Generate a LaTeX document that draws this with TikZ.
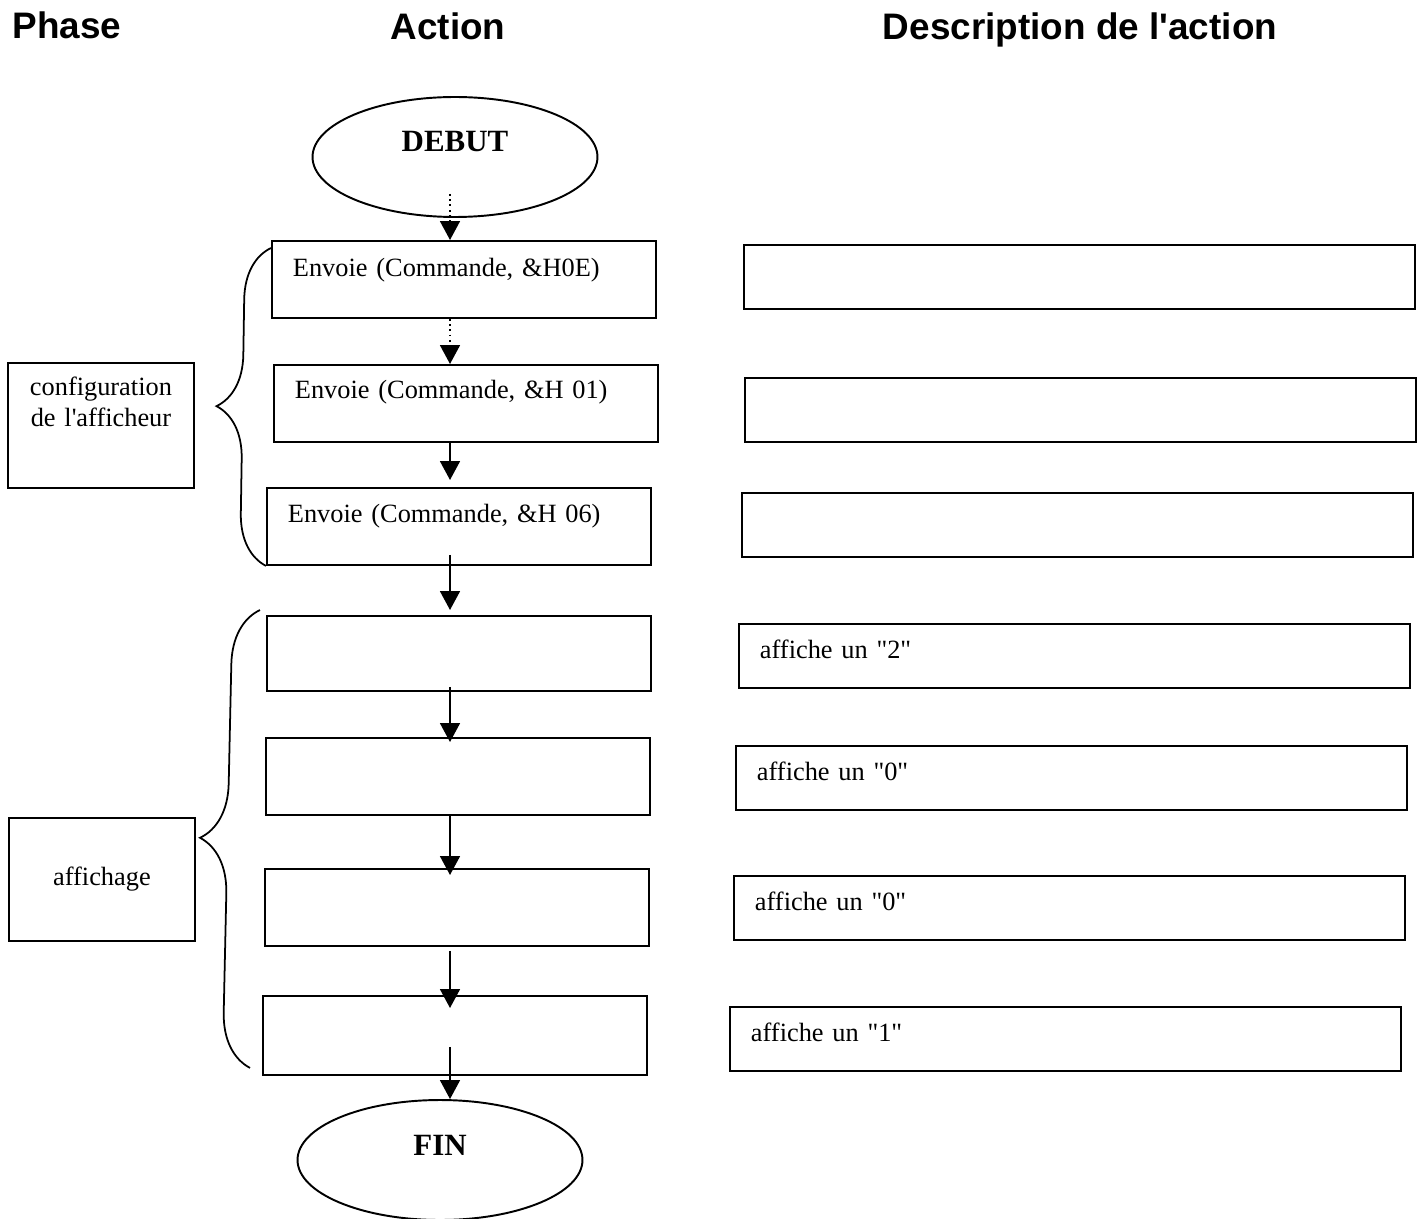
\documentclass[tikz,border=0pt]{standalone}
\usepackage{fontspec}
\setmainfont{Liberation Serif}
\newfontfamily\headfont{Liberation Sans}
\usetikzlibrary{arrows.meta,positioning,decorations.pathreplacing,shapes.geometric}

\begin{document}
\begin{tikzpicture}[x=0.02cm, y=-0.02cm,
  font=\fontsize{15}{17.5}\selectfont,
  head/.style={anchor=base, font=\headfont\bfseries\fontsize{21}{25}\selectfont},
  term/.style={ellipse, draw, line width=1.1pt, minimum width=5.7cm, minimum height=2.4cm,
    inner sep=0pt, text height=0.4cm, text depth=0.6cm, font=\bfseries\fontsize{17.6}{20}\selectfont},
  act/.style={draw, line width=1.1pt, anchor=north west, text width=6.84cm, inner xsep=0.42cm,
    inner ysep=0pt, text height=0.72cm, text depth=0.82cm, align=left},
  desc/.style={draw, line width=1.1pt, anchor=north west, text width=12.58cm, inner xsep=0.42cm,
    inner ysep=0pt, text height=0.69cm, text depth=0.59cm, align=left},
  phase/.style={draw, line width=1.1pt, anchor=north west, text width=3.72cm, inner sep=0pt, align=center},
  flow/.style={-{Triangle[length=0.38cm,width=0.4cm]}, line width=1pt},
  brace/.style={decorate, decoration={brace, amplitude=#1}, line width=1pt}]
  \useasboundingbox (0,0) rectangle (1422,1219);

  % titles
  \node[head] (hphase) at (67,39) {Phase};
  \node[head] (haction) at (448,40) {Action};
  \node[head] (hdesc) at (1080,40) {Description de l'action};

  % actions
  \node[term] (start) at (455,157) {DEBUT};
  \node[act] (act1) at (271,240) {Envoie (Commande, \&H0E)};
  \node[act, text height=0.68cm, text depth=0.86cm] (act2) at (273,364) {Envoie (Commande, \&H 01)};
  \node[act, text height=0.7cm, text depth=0.84cm] (act3) at (266,487) {Envoie (Commande, \&H 06)};
  \node[act, text depth=0.78cm] (act4) at (266,615) {};
  \node[act] (act5) at (265,737) {};
  \node[act] (act6) at (264,868) {};
  \node[act, text depth=0.86cm] (act7) at (262,995) {};
  \node[term] (fin) at (440,1160) {FIN};

  % descriptions
  \node[desc] (desc1) at (743,244) {};
  \node[desc] (desc2) at (744,377) {};
  \node[desc] (desc3) at (741,492) {};
  \node[desc] (desc4) at (738,623) {affiche un \textquotedbl 2\textquotedbl};
  \node[desc] (desc5) at (735,745) {affiche un \textquotedbl 0\textquotedbl};
  \node[desc] (desc6) at (733,875) {affiche un \textquotedbl 0\textquotedbl};
  \node[desc] (desc7) at (729,1006) {affiche un \textquotedbl 1\textquotedbl};

  % phases
  \node[phase, text height=0.66cm, text depth=1.84cm] (phase1) at (7,362) {configuration\\de l\textquotesingle afficheur};
  \node[phase, minimum height=2.46cm] (phase2) at (8,817) {affichage};

  \draw[brace=1.04cm] (act3.south west) -- ([yshift=-0.16cm]act1.north west);
  \draw[brace=1.1cm] ([shift={(-0.24cm,0.16cm)}]act7.south west) -- ([shift={(-0.12cm,0.1cm)}]act4.north west);

  % flow
  \coordinate (axis) at (450,0);
  \draw[flow, dotted] ([yshift=0.48cm]start.south -| axis) -- (act1.north -| axis);
  \draw[flow, dotted] (act1.south -| axis) -- (act2.north -| axis);
  \draw[flow] (act2.south -| axis) -- ([yshift=0.14cm]act3.north -| axis);
  \draw[flow] ([yshift=0.22cm]act3.south -| axis) -- ([yshift=0.1cm]act4.north -| axis);
  \draw[flow] ([yshift=0.1cm]act4.south -| axis) -- ([yshift=-0.1cm]act5.north -| axis);
  \draw[flow] (act5.south -| axis) -- ([yshift=-0.14cm]act6.north -| axis);
  \draw[flow] ([yshift=-0.08cm]act6.south -| axis) -- ([yshift=-0.26cm]act7.north -| axis);
  \draw[flow] ([yshift=0.58cm]act7.south -| axis) -- (fin.north -| axis);
\end{tikzpicture}
\end{document}
